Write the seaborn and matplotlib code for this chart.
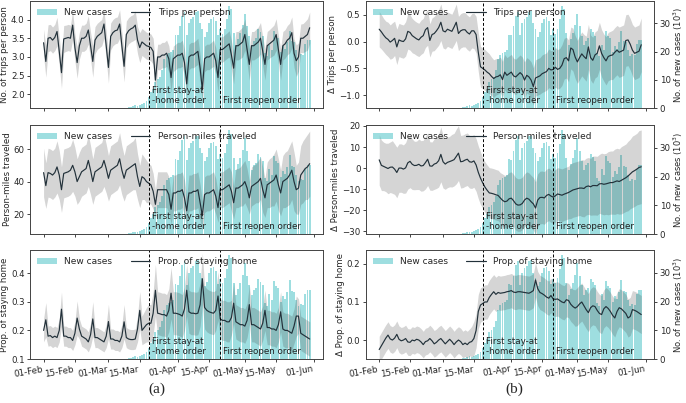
import numpy as np
import pandas as pd
import matplotlib
matplotlib.use('Agg')
import matplotlib.pyplot as plt
import matplotlib.dates as mdates
import matplotlib.transforms as mtransforms
import seaborn as sns

# daily values 01-Feb-2020 .. 30-May-2020 (rows = weeks, Sat..Fri)
start_date = '2020-02-01'
n_days = 120

trips = [
    3.38, 2.88, 3.50, 3.52, 3.45, 3.52, 3.68,
    3.15, 2.58, 3.48, 3.50, 3.52, 3.50, 3.85,
    3.25, 2.85, 3.30, 3.50, 3.50, 3.55, 3.72,
    3.30, 2.88, 3.45, 3.55, 3.60, 3.65, 3.88,
    3.30, 2.72, 3.55, 3.65, 3.70, 3.72, 3.88,
    3.30, 2.75, 3.60, 3.70, 3.75, 3.78, 3.85,
    3.45, 3.25, 3.40, 3.35, 3.30, 3.28, 3.25,
    3.15, 2.38, 3.00, 3.00, 3.05, 3.05, 3.10,
    2.95, 2.45, 2.95, 3.00, 3.05, 3.05, 3.10,
    2.85, 2.28, 3.00, 3.05, 3.05, 3.10, 3.15,
    2.70, 2.12, 2.95, 3.00, 3.00, 3.05, 3.10,
    2.90, 2.45, 3.20, 3.20, 3.25, 3.30, 3.35,
    3.05, 2.70, 3.30, 3.30, 3.35, 3.40, 3.60,
    3.20, 2.80, 3.30, 3.30, 3.35, 3.40, 3.50,
    3.15, 2.80, 3.30, 3.35, 3.40, 3.45, 3.60,
    3.20, 2.80, 3.30, 3.35, 3.45, 3.50, 3.65,
    3.10, 2.90, 3.00, 3.50, 3.50, 3.55, 3.60,
    3.78,
]
trips_sd = [
    0.36, 0.42, 0.36, 0.35, 0.35, 0.35, 0.38,
    0.36, 0.42, 0.36, 0.35, 0.35, 0.35, 0.38,
    0.36, 0.42, 0.36, 0.35, 0.35, 0.35, 0.38,
    0.36, 0.42, 0.36, 0.35, 0.35, 0.35, 0.38,
    0.36, 0.42, 0.36, 0.35, 0.35, 0.35, 0.38,
    0.36, 0.42, 0.36, 0.35, 0.35, 0.35, 0.38,
    0.36, 0.40, 0.36, 0.36, 0.36, 0.36, 0.36,
    0.35, 0.40, 0.34, 0.34, 0.34, 0.34, 0.35,
    0.35, 0.40, 0.34, 0.34, 0.34, 0.34, 0.35,
    0.35, 0.40, 0.34, 0.34, 0.34, 0.34, 0.35,
    0.35, 0.40, 0.34, 0.34, 0.34, 0.34, 0.35,
    0.35, 0.40, 0.34, 0.34, 0.34, 0.34, 0.35,
    0.38, 0.42, 0.38, 0.38, 0.39, 0.40, 0.42,
    0.38, 0.42, 0.38, 0.38, 0.39, 0.40, 0.42,
    0.38, 0.42, 0.38, 0.38, 0.39, 0.40, 0.42,
    0.38, 0.42, 0.38, 0.38, 0.39, 0.40, 0.42,
    0.38, 0.42, 0.38, 0.38, 0.39, 0.40, 0.42,
    0.42,
]

miles = [
    45.5, 37.5, 45.5, 45.0, 44.0, 45.5, 49.0,
    44.0, 35.0, 45.0, 45.5, 46.0, 47.0, 50.0,
    46.0, 40.0, 43.0, 46.0, 47.0, 48.0, 53.0,
    47.0, 40.0, 46.0, 47.0, 48.0, 49.0, 53.0,
    48.0, 42.0, 47.0, 48.0, 49.0, 50.0, 54.0,
    47.0, 42.0, 47.0, 48.0, 49.0, 50.0, 51.0,
    43.0, 37.0, 43.0, 42.0, 40.0, 39.0, 38.0,
    34.0, 26.0, 35.0, 35.0, 35.0, 35.0, 35.0,
    32.0, 23.0, 33.0, 33.0, 34.0, 34.0, 35.0,
    30.0, 22.0, 33.0, 33.0, 34.0, 34.0, 35.0,
    27.0, 19.0, 32.0, 33.0, 33.0, 34.0, 35.0,
    31.0, 24.0, 35.0, 35.0, 36.0, 37.0, 38.0,
    34.0, 27.0, 36.0, 36.0, 37.0, 38.0, 40.0,
    36.0, 30.0, 37.0, 38.0, 39.0, 40.0, 42.0,
    35.0, 30.0, 38.0, 39.0, 40.0, 41.0, 44.0,
    38.0, 33.0, 40.0, 41.0, 42.0, 44.0, 47.0,
    40.0, 35.0, 36.0, 44.0, 46.0, 48.0, 49.0,
    51.0,
]
miles_sd = [
    15, 14, 15, 15, 15, 15, 16,
    15, 14, 15, 15, 15, 15, 16,
    15, 14, 15, 15, 15, 15, 16,
    15, 14, 15, 15, 15, 15, 16,
    15, 14, 15, 15, 15, 15, 16,
    15, 14, 15, 15, 15, 15, 16,
    14, 13, 14, 13, 13, 12, 12,
    11, 9, 11, 11, 11, 11, 11,
    11, 9, 11, 11, 11, 11, 11,
    11, 9, 11, 11, 11, 11, 11,
    11, 9, 11, 11, 11, 11, 11,
    11, 9, 11, 11, 11, 11, 11,
    12, 10, 12, 12, 12, 13, 13,
    12, 10, 12, 12, 12, 13, 13,
    14, 12, 14, 15, 15, 16, 16,
    16, 14, 16, 17, 17, 18, 18,
    18, 15, 16, 18, 19, 19, 20,
    20,
]

home = [
    0.200, 0.237, 0.180, 0.182, 0.175, 0.180, 0.175,
    0.200, 0.274, 0.180, 0.180, 0.175, 0.175, 0.165,
    0.190, 0.243, 0.205, 0.180, 0.175, 0.170, 0.160,
    0.185, 0.240, 0.175, 0.175, 0.170, 0.165, 0.160,
    0.180, 0.231, 0.170, 0.170, 0.165, 0.165, 0.160,
    0.180, 0.230, 0.175, 0.170, 0.168, 0.168, 0.170,
    0.205, 0.270, 0.200, 0.210, 0.220, 0.225, 0.225,
    0.260, 0.340, 0.260, 0.258, 0.255, 0.255, 0.250,
    0.270, 0.330, 0.260, 0.260, 0.258, 0.255, 0.250,
    0.275, 0.340, 0.265, 0.260, 0.260, 0.258, 0.260,
    0.290, 0.380, 0.280, 0.270, 0.265, 0.262, 0.260,
    0.270, 0.320, 0.240, 0.235, 0.235, 0.230, 0.230,
    0.245, 0.295, 0.230, 0.225, 0.220, 0.220, 0.215,
    0.235, 0.290, 0.220, 0.220, 0.215, 0.210, 0.205,
    0.225, 0.270, 0.210, 0.210, 0.205, 0.205, 0.200,
    0.220, 0.265, 0.205, 0.200, 0.200, 0.195, 0.190,
    0.215, 0.250, 0.250, 0.190, 0.185, 0.180, 0.175,
    0.170,
]
home_sd = [
    0.040, 0.060, 0.035, 0.035, 0.035, 0.035, 0.035,
    0.040, 0.060, 0.035, 0.035, 0.035, 0.035, 0.035,
    0.040, 0.060, 0.035, 0.035, 0.035, 0.035, 0.035,
    0.040, 0.060, 0.035, 0.035, 0.035, 0.035, 0.035,
    0.040, 0.060, 0.035, 0.035, 0.035, 0.035, 0.035,
    0.040, 0.060, 0.035, 0.035, 0.035, 0.035, 0.035,
    0.045, 0.065, 0.050, 0.055, 0.060, 0.065, 0.065,
    0.075, 0.090, 0.075, 0.075, 0.075, 0.075, 0.075,
    0.075, 0.090, 0.075, 0.075, 0.075, 0.075, 0.075,
    0.075, 0.090, 0.075, 0.075, 0.075, 0.075, 0.075,
    0.075, 0.090, 0.075, 0.075, 0.075, 0.075, 0.075,
    0.070, 0.085, 0.070, 0.070, 0.070, 0.070, 0.070,
    0.060, 0.070, 0.060, 0.060, 0.060, 0.060, 0.060,
    0.060, 0.070, 0.060, 0.060, 0.060, 0.060, 0.060,
    0.060, 0.070, 0.060, 0.060, 0.060, 0.060, 0.060,
    0.060, 0.070, 0.060, 0.060, 0.060, 0.060, 0.060,
    0.060, 0.070, 0.060, 0.060, 0.060, 0.060, 0.060,
    0.060,
]

# changes vs. baseline (rows of 10 days)
dtrips = [
    0.23, 0.18, 0.12, 0.07, 0.04, -0.01, 0.02, 0.06, -0.10, 0.03,
    0.01, 0.00, 0.05, 0.19, 0.17, 0.11, 0.08, 0.05, 0.03, 0.08,
    0.11, 0.22, 0.26, 0.02, 0.13, 0.15, 0.20, 0.26, 0.36, 0.20,
    0.18, 0.23, 0.21, 0.19, 0.27, 0.36, 0.15, 0.20, 0.22, 0.22,
    0.17, 0.14, 0.20, 0.20, 0.13, -0.20, -0.47, -0.50, -0.53, -0.57,
    -0.60, -0.65, -0.69, -0.66, -0.65, -0.62, -0.71, -0.57, -0.63, -0.60,
    -0.57, -0.64, -0.66, -0.62, -0.58, -0.62, -0.72, -0.63, -0.66, -0.72,
    -0.84, -0.68, -0.66, -0.64, -0.60, -0.58, -0.56, -0.50, -0.53, -0.52,
    -0.48, -0.52, -0.50, -0.44, -0.32, -0.30, -0.36, -0.12, -0.15, -0.29,
    -0.38, -0.30, -0.23, -0.28, -0.32, -0.10, -0.30, -0.35, -0.25, -0.22,
    -0.08, -0.22, -0.30, -0.36, -0.28, -0.26, -0.25, -0.20, -0.16, -0.20,
    -0.18, -0.16, 0.02, 0.03, -0.05, -0.16, -0.22, -0.20, -0.18, -0.06,
]
dtrips_sd = [
    0.33, 0.32, 0.31, 0.31, 0.32, 0.32, 0.33, 0.32, 0.33, 0.31,
    0.31, 0.31, 0.32, 0.33, 0.33, 0.32, 0.31, 0.31, 0.31, 0.32,
    0.32, 0.33, 0.33, 0.31, 0.31, 0.32, 0.32, 0.33, 0.34, 0.32,
    0.32, 0.32, 0.32, 0.32, 0.33, 0.34, 0.32, 0.32, 0.32, 0.32,
    0.32, 0.32, 0.32, 0.33, 0.34, 0.36, 0.38, 0.38, 0.38, 0.38,
    0.37, 0.36, 0.35, 0.34, 0.33, 0.33, 0.34, 0.33, 0.33, 0.33,
    0.33, 0.33, 0.33, 0.33, 0.33, 0.33, 0.34, 0.33, 0.33, 0.34,
    0.35, 0.34, 0.34, 0.34, 0.35, 0.35, 0.35, 0.36, 0.36, 0.36,
    0.37, 0.37, 0.37, 0.38, 0.38, 0.38, 0.39, 0.39, 0.40, 0.40,
    0.40, 0.41, 0.41, 0.41, 0.42, 0.42, 0.42, 0.43, 0.43, 0.43,
    0.44, 0.44, 0.44, 0.45, 0.45, 0.45, 0.46, 0.46, 0.46, 0.47,
    0.47, 0.47, 0.48, 0.48, 0.48, 0.48, 0.49, 0.49, 0.49, 0.50,
]

dmiles = [
    3.9, 1.3, 0.8, 0.3, -0.2, 0.4, 0.5, -0.5, -2.1, 0.0,
    0.0, -0.5, 0.1, 2.5, 3.2, 1.8, 1.2, 1.3, 1.8, 1.0,
    1.2, 2.6, 4.2, 1.0, 0.9, 1.9, 2.3, 3.5, 6.5, 3.0,
    1.9, 2.7, 3.1, 3.5, 4.0, 5.5, 7.1, 3.0, 3.2, 3.8,
    4.2, 3.0, 2.8, 3.4, 1.5, -2.0, -4.8, -7.0, -9.0, -10.5,
    -11.8, -12.0, -12.3, -12.7, -13.0, -14.2, -15.3, -16.0, -15.7, -14.6,
    -14.3, -15.5, -17.0, -17.6, -17.5, -16.8, -15.2, -14.3, -14.8, -16.0,
    -17.0, -19.0, -15.2, -14.0, -13.9, -14.2, -13.0, -12.5, -13.3, -13.8,
    -13.2, -12.3, -12.6, -12.9, -12.4, -12.0, -11.6, -11.0, -10.4, -10.1,
    -9.8, -9.5, -9.5, -9.7, -8.8, -8.5, -8.9, -8.3, -8.3, -8.4,
    -7.5, -7.4, -7.7, -7.5, -7.2, -6.9, -6.9, -6.5, -6.1, -6.4,
    -5.8, -5.2, -4.6, -3.8, -2.8, -1.8, -1.2, -0.5, 0.3, 0.6,
]
dmiles_sd = [
    12.0, 12.0, 11.5, 11.5, 12.0, 12.0, 12.5, 12.0, 12.0, 11.5,
    11.5, 11.5, 12.0, 12.5, 12.5, 12.0, 11.5, 11.5, 12.0, 12.0,
    12.0, 12.5, 12.5, 11.5, 11.5, 12.0, 12.0, 12.5, 13.0, 12.5,
    12.0, 12.0, 12.0, 12.5, 12.5, 13.0, 13.0, 12.5, 12.5, 12.5,
    12.5, 12.5, 12.5, 12.5, 12.5, 12.5, 12.5, 12.0, 12.0, 12.0,
    12.0, 12.0, 12.0, 12.0, 12.0, 12.0, 12.5, 12.5, 12.5, 12.5,
    12.5, 12.5, 12.5, 12.5, 12.5, 12.5, 12.5, 12.5, 12.5, 12.5,
    12.5, 12.5, 12.5, 12.5, 12.5, 12.5, 12.5, 12.5, 12.5, 12.5,
    12.5, 12.5, 12.5, 12.5, 12.5, 12.5, 12.5, 13.0, 13.0, 13.0,
    13.0, 13.0, 13.5, 13.5, 13.5, 13.5, 13.5, 14.0, 14.0, 14.0,
    14.0, 14.5, 14.5, 14.5, 15.0, 15.0, 15.0, 15.5, 15.5, 15.5,
    16.0, 16.0, 16.0, 16.5, 16.5, 17.0, 17.0, 17.0, 17.5, 17.5,
]

dhome = [
    -0.025, -0.015, -0.005, 0.005, 0.013, 0.003, 0.000, 0.005, 0.015, 0.002,
    -0.002, 0.000, 0.004, -0.005, -0.006, 0.000, -0.002, 0.002, 0.000, -0.005,
    -0.012, -0.004, -0.002, 0.004, -0.002, -0.010, -0.006, 0.000, 0.004, -0.003,
    -0.010, -0.004, 0.002, -0.004, -0.012, -0.005, 0.000, -0.004, -0.012, -0.008,
    -0.012, -0.006, -0.004, 0.004, 0.025, 0.075, 0.092, 0.096, 0.100, 0.100,
    0.112, 0.120, 0.127, 0.120, 0.125, 0.123, 0.124, 0.125, 0.127, 0.128,
    0.130, 0.126, 0.125, 0.127, 0.127, 0.126, 0.125, 0.124, 0.123, 0.126,
    0.130, 0.158, 0.135, 0.125, 0.122, 0.118, 0.113, 0.110, 0.117, 0.108,
    0.107, 0.108, 0.104, 0.100, 0.098, 0.106, 0.104, 0.094, 0.088, 0.084,
    0.088, 0.095, 0.100, 0.090, 0.080, 0.072, 0.085, 0.090, 0.088, 0.078,
    0.070, 0.067, 0.082, 0.088, 0.083, 0.075, 0.065, 0.058, 0.075, 0.085,
    0.082, 0.076, 0.070, 0.058, 0.062, 0.080, 0.078, 0.075, 0.071, 0.067,
]
dhome_sd = [
    0.035, 0.035, 0.035, 0.035, 0.035, 0.035, 0.035, 0.035, 0.035, 0.035,
    0.035, 0.035, 0.035, 0.035, 0.035, 0.035, 0.035, 0.035, 0.035, 0.035,
    0.035, 0.035, 0.035, 0.035, 0.035, 0.035, 0.035, 0.035, 0.035, 0.035,
    0.035, 0.035, 0.035, 0.035, 0.035, 0.035, 0.035, 0.035, 0.035, 0.035,
    0.035, 0.035, 0.040, 0.045, 0.045, 0.045, 0.045, 0.045, 0.045, 0.045,
    0.045, 0.045, 0.045, 0.045, 0.045, 0.045, 0.045, 0.045, 0.045, 0.045,
    0.045, 0.045, 0.045, 0.045, 0.045, 0.045, 0.045, 0.045, 0.045, 0.045,
    0.045, 0.045, 0.045, 0.045, 0.045, 0.045, 0.045, 0.045, 0.045, 0.045,
    0.045, 0.045, 0.045, 0.045, 0.045, 0.045, 0.045, 0.045, 0.045, 0.048,
    0.050, 0.050, 0.050, 0.050, 0.050, 0.050, 0.050, 0.050, 0.050, 0.050,
    0.050, 0.050, 0.050, 0.050, 0.050, 0.050, 0.050, 0.050, 0.050, 0.050,
    0.050, 0.050, 0.050, 0.050, 0.050, 0.050, 0.050, 0.050, 0.050, 0.050,
]

# daily new cases (thousands) from 08-Mar-2020
cases_start = '2020-03-08'
new_cases = [
    0.1, 0.15, 0.3, 0.45, 0.6, 0.9, 0.8, 1.0, 1.5, 1.9, 2.6, 4.0,
    5.5, 6.9, 9.3, 10.2, 11.1, 13.4, 17.2, 18.7, 19.5, 19.9, 20.7, 26.0,
    25.9, 28.9, 32.6, 34.1, 25.8, 30.0, 31.6, 32.3, 34.0, 34.3,
    30.1, 28.1, 25.3, 26.8, 30.1, 31.6, 32.1, 30.8, 26.0, 27.9,
    26.4, 28.1, 31.5, 36.2, 35.0, 26.6, 22.4, 24.4, 26.6, 29.3,
    33.4, 28.9, 25.6, 22.3, 23.9, 24.8, 28.0, 26.9, 25.6, 19.5,
    18.6, 22.5, 20.5, 27.2, 25.4, 24.9, 19.9, 22.1, 20.8, 23.3,
    27.4, 23.8, 23.4, 20.5, 18.6, 19.1, 18.9, 22.6, 24.2, 24.1,
]

stay_home_date = '2020-03-19'
reopen_date = '2020-04-20'

sns.set_style('ticks')
plt.rcParams['font.family'] = ['DejaVu Sans']

dates = pd.date_range(start_date, periods=n_days, freq='D')
case_dates = pd.date_range(cases_start, periods=len(new_cases), freq='D')

bar_color = '#3fbfc2'
line_color = '#22313a'
fs = 6.2

fig = plt.figure(figsize=(6.86, 4.03), dpi=100)

col_x = [(0.044, 0.427), (0.5335, 0.4205)]
row_y = [(0.732, 0.266), (0.419, 0.271), (0.109, 0.271)]

panels = [
    # col, row, values, sd, ylabel, legend label, ylim, yticks
    (0, 0, trips, trips_sd, 'No. of trips per person', 'Trips per person', (1.636, 4.5), [2.0, 2.5, 3.0, 3.5, 4.0]),
    (0, 1, miles, miles_sd, 'Person-miles traveled', 'Person-miles traveled', (7.7, 74.8), [20, 40, 60]),
    (0, 2, home, home_sd, 'Prop. of staying home', 'Prop. of staying home', (0.1, 0.481), [0.1, 0.2, 0.3, 0.4]),
    (1, 0, dtrips, dtrips_sd, 'Δ Trips per person', 'Trips per person', (-1.24, 0.76), [-1.0, -0.5, 0.0, 0.5]),
    (1, 1, dmiles, dmiles_sd, 'Δ Person-miles traveled', 'Person-miles traveled', (-31.4, 20.5), [-30, -20, -10, 0, 10, 20]),
    (1, 2, dhome, dhome_sd, 'Δ Prop. of staying home', 'Prop. of staying home', (-0.05, 0.237), [0.0, 0.1, 0.2]),
]

stay = pd.Timestamp(stay_home_date)
reopen = pd.Timestamp(reopen_date)

for col, row, vals, sd, ylab, leg_lab, ylim, yticks in panels:
    x0, w = col_x[col]
    y0, h = row_y[row]
    ax = fig.add_axes([x0, y0, w, h])
    ax2 = ax.twinx()

    # new cases on the right axis, drawn behind the mobility line
    bars = ax2.bar(case_dates, new_cases, width=0.85, color=bar_color, alpha=0.5, linewidth=0)
    ax2.set_ylim(0, 38)
    if col == 1:
        ax2.set_yticks([0, 10, 20, 30])
        ax2.set_ylabel('No. of new cases (10$^3$)', fontsize=6.0, labelpad=0.5)
        ax2.tick_params(axis='y', labelsize=fs, length=2.5, width=0.6, pad=1.2)
    else:
        ax2.set_yticks([])
    ax.set_zorder(ax2.get_zorder() + 1)
    ax.patch.set_visible(False)

    v = np.array(vals)
    s = np.array(sd)
    ax.fill_between(dates, v - s, v + s, color='#404040', alpha=0.22, linewidth=0)
    sns.lineplot(x=dates, y=v, ax=ax, color=line_color, linewidth=0.85, legend=False)

    ax.axvline(stay, color='k', ls='--', lw=0.7, dashes=(3, 2))
    ax.axvline(reopen, color='k', ls='--', lw=0.7, dashes=(3, 2))
    trans = mtransforms.blended_transform_factory(ax.transData, ax.transAxes)
    ax.text(mdates.date2num(stay + pd.Timedelta(days=1.3)), 0.03, 'First stay-at\n-home order',
            transform=trans, fontsize=6.3, ha='left', va='bottom', linespacing=1.15, color='#222222')
    ax.text(mdates.date2num(reopen + pd.Timedelta(days=1.3)), 0.03, 'First reopen order',
            transform=trans, fontsize=6.3, ha='left', va='bottom', color='#222222')

    ax.set_xlim(pd.Timestamp('2020-01-26'), pd.Timestamp('2020-06-05'))
    ax.set_ylim(*ylim)
    ax.set_yticks(yticks)
    ax.set_ylabel(ylab, fontsize=fs, labelpad=1.5)
    ax.set_xlabel('')
    ax.xaxis.set_major_locator(mdates.DayLocator(bymonthday=[1, 15]))
    ax.xaxis.set_major_formatter(mdates.DateFormatter('%d-%b'))
    ax.tick_params(labelsize=fs, length=2.5, width=0.6, pad=1.5)
    if row < 2:
        ax.tick_params(axis='x', labelbottom=False)
    else:
        plt.setp(ax.get_xticklabels(), rotation=10, ha='right')

    for a in (ax, ax2):
        for sp in a.spines.values():
            sp.set_linewidth(0.6)
            sp.set_color('#444444')

    ax.legend([bars, ax.lines[0]], ['New cases', leg_lab], loc='upper left', ncol=2,
              frameon=False, fontsize=6.5, handlelength=2.2, columnspacing=2.0,
              borderaxespad=0.4, handletextpad=0.8)

fig.text(0.229, 0.035, '(a)', family='Liberation Serif', fontsize=11, ha='center', va='center')
fig.text(0.749, 0.035, '(b)', family='Liberation Serif', fontsize=11, ha='center', va='center')

fig.savefig('out.png', dpi=100)
